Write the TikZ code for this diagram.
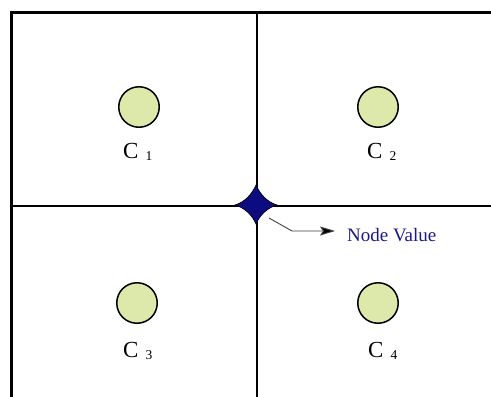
\documentclass[tikz,border=0pt]{standalone}
\usepackage{fontspec}
\setmainfont{Liberation Serif}
\usetikzlibrary{arrows.meta}
\definecolor{cfill}{RGB}{221,233,170}
\definecolor{navyc}{RGB}{12,12,128}
\definecolor{textnavy}{RGB}{25,25,140}
\tikzset{
  cell/.style={circle,draw=black,line width=1.5pt,fill=cfill,minimum size=40.5pt,inner sep=0pt},
  clabel/.style={font=\fontsize{23}{25}\selectfont,inner sep=0pt,anchor=base west},
  outerline/.style={line width=3pt},
  innerline/.style={line width=2pt},
}
\newcommand{\csub}[1]{\hspace{7pt}\raisebox{-2pt}{\fontsize{13.5}{14}\selectfont #1}}
\begin{document}
\begin{tikzpicture}[x=1pt,y=-1pt]
\useasboundingbox (0,0) rectangle (491,397);
\coordinate (tl) at (11,12);
\coordinate (tr) at (491,12);
\coordinate (bl) at (11,397);
\coordinate (vt) at (257,12);
\coordinate (vb) at (257,397);
\coordinate (hl) at (11,206);
\coordinate (hr) at (491,206);
\draw[innerline] (vt) -- (vb);
\draw[innerline] (hl) -- (hr);
\draw[outerline,line cap=rect] (tr) -- (tl) -- (bl);
\node[cell] (c1) at (139,107) {};
\node[cell] (c2) at (378,107) {};
\node[cell] (c3) at (137,303) {};
\node[cell] (c4) at (378,303) {};
\node[clabel] (l1) at (123,158) {C\csub{1}};
\node[clabel] (l2) at (367,158) {C\csub{2}};
\node[clabel] (l3) at (123,357) {C\csub{3}};
\node[clabel] (l4) at (368,357) {C\csub{4}};
\coordinate (nv) at (256,205);
\fill[navyc,draw=black,line width=0.6pt] (235,205) .. controls (245,202) and (252,194) .. (256,185)
  .. controls (260,194) and (267,202) .. (277,205)
  .. controls (267,208) and (260,215) .. (256,224)
  .. controls (252,215) and (245,208) .. (235,205) -- cycle;
\node[text=textnavy,font=\fontsize{19}{21}\selectfont,anchor=base west,inner sep=0pt] (nvt) at (347,241) {Node Value};
\coordinate (a0) at (269,218);
\coordinate (a1) at (292,231);
\coordinate (a2) at (335,231);
\draw[line width=0.9pt,draw=black!75,-{Stealth[length=15pt,width=9pt,inset=3pt,fill=black]}] (a0) -- (a1) -- (a2);
\end{tikzpicture}
\end{document}
